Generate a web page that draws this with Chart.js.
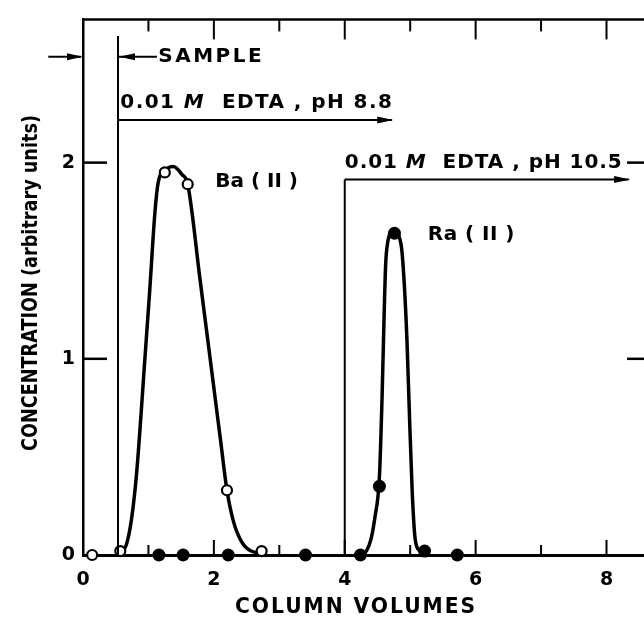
<!DOCTYPE html>
<html>
<head>
<meta charset="utf-8">
<script src="https://cdn.jsdelivr.net/npm/chart.js@4.4.1/dist/chart.umd.min.js"></script>
<style>
  html, body { margin: 0; padding: 0; background: #fff; overflow: hidden; }
  canvas { display: block; }
</style>
</head>
<body>
<canvas id="elutionChart" width="670" height="620"></canvas>
<script>
// Ba(II) fractions (open circles)
const baX = [0.14, 0.57, 1.25, 1.60, 2.20, 2.73];
const baY = [0.00, 0.02, 1.95, 1.89, 0.33, 0.02];

// Ra(II) fractions (filled circles)
const raX = [1.16, 1.53, 2.22, 3.40, 4.24, 4.53, 4.76, 5.22, 5.72];
const raY = [0.00, 0.00, 0.00, 0.00, 0.00, 0.35, 1.64, 0.02, 0.00];

// hand-drawn elution curves
const baCurveX = [0.57, 0.66, 0.74, 0.82, 0.95, 1.02, 1.10, 1.15, 1.25, 1.38, 1.51, 1.60, 1.79, 1.97, 2.10, 2.20, 2.30, 2.42, 2.57, 2.73];
const baCurveY = [0.01, 0.05, 0.18, 0.42, 1.02, 1.35, 1.75, 1.90, 1.96, 1.98, 1.94, 1.89, 1.40, 0.93, 0.59, 0.33, 0.17, 0.07, 0.02, 0.01];
const raCurveX = [4.24, 4.33, 4.40, 4.46, 4.53, 4.57, 4.60, 4.625, 4.66, 4.71, 4.76, 4.82, 4.87, 4.91, 4.95, 4.99, 5.03, 5.07, 5.12, 5.22];
const raCurveY = [0.00, 0.02, 0.08, 0.19, 0.40, 0.80, 1.20, 1.48, 1.60, 1.645, 1.65, 1.63, 1.56, 1.38, 1.10, 0.70, 0.33, 0.10, 0.03, 0.01];

// axis ticks
const xTickLabels = [0, 2, 4, 6, 8];
const yTickLabels = [0, 1, 2];
const xInnerTicks = [1, 2, 3, 4, 5, 6, 7, 8];
const yInnerTicks = [1, 2];

const toPoints = (xs, ys) => xs.map((v, i) => ({ x: v, y: ys[i] }));

const FONT = '"DejaVu Sans", sans-serif';

function line(ctx, x1, y1, x2, y2, w) {
    ctx.lineWidth = w;
    ctx.beginPath();
    ctx.moveTo(x1, y1);
    ctx.lineTo(x2, y2);
    ctx.stroke();
}

function head(ctx, x, y, dir) {
    // dir = 1 points right, -1 points left
    ctx.beginPath();
    ctx.moveTo(x, y);
    ctx.lineTo(x - dir * 16, y - 3.5);
    ctx.lineTo(x - dir * 16, y + 3.5);
    ctx.closePath();
    ctx.fill();
}

// draws runs of text stretched to a given width
function runs(ctx, parts, x, y, size, width) {
    const f = p => (p.italic ? 'italic ' : '') + 'bold ' + size + 'px ' + FONT;
    ctx.letterSpacing = '0px';
    let natural = 0, chars = 0;
    parts.forEach(p => {
        ctx.font = f(p);
        natural += ctx.measureText(p.t).width;
        chars += p.t.length;
    });
    const sp = Math.max(0, (width - natural) / chars);
    ctx.letterSpacing = sp + 'px';
    parts.forEach(p => {
        ctx.font = f(p);
        ctx.fillText(p.t, x, y);
        x += ctx.measureText(p.t).width;
    });
    ctx.letterSpacing = '0px';
}

const annotate = {
    id: 'annotate',
    afterDraw(chart) {
        const { ctx, chartArea: a, scales: { x, y } } = chart;
        const px = v => x.getPixelForValue(v);
        const py = v => y.getPixelForValue(v);
        ctx.save();
        ctx.strokeStyle = '#000';
        ctx.fillStyle = '#000';

        // frame top + right
        line(ctx, a.left - 1, a.top, a.right, a.top, 2.5);
        line(ctx, a.right, a.top, a.right, a.bottom, 2.5);

        // inward ticks
        xInnerTicks.forEach(v => {
            line(ctx, px(v), a.top, px(v), a.top + (v % 2 ? 12 : 20), 2);
            line(ctx, px(v), a.bottom, px(v), a.bottom - (v % 2 ? 10 : 15), 2);
        });
        yInnerTicks.forEach(v => {
            line(ctx, a.left, py(v), a.left + 24, py(v), 2.5);
            line(ctx, a.right, py(v), a.right - 24, py(v), 2.5);
        });

        // sample injection
        const xs = 0.535;
        line(ctx, px(-0.53), py(2.54), a.left - 2, py(2.54), 2);
        head(ctx, a.left, py(2.54), 1);
        line(ctx, px(xs), py(2.645), px(xs), a.bottom, 2);
        line(ctx, px(xs), py(2.54), px(1.13), py(2.54), 2);
        head(ctx, px(xs) + 1, py(2.54), -1);

        ctx.textBaseline = 'middle';
        ctx.textAlign = 'left';
        runs(ctx, [{ t: 'SAMPLE' }], px(1.15), py(2.54), 20, 106);

        // first eluent
        line(ctx, px(xs), py(2.217), px(4.72), py(2.217), 2);
        head(ctx, px(4.74), py(2.217), 1);
        runs(ctx, [{ t: '0.01 ' }, { t: 'M', italic: true }, { t: '  EDTA , pH 8.8' }], px(0.57), py(2.307), 20, 273);

        // second eluent
        line(ctx, px(4), py(1.914), px(4), a.bottom, 2);
        line(ctx, px(4), py(1.914), px(8.34), py(1.914), 2);
        head(ctx, px(8.36), py(1.914), 1);
        runs(ctx, [{ t: '0.01 ' }, { t: 'M', italic: true }, { t: '  EDTA , pH 10.5' }], px(4.0), py(2.0), 20, 278);

        // peak labels
        runs(ctx, [{ t: 'Ba ( II )' }], px(2.02), py(1.9), 20, 82);
        runs(ctx, [{ t: 'Ra ( II )' }], px(5.27), py(1.63), 20, 87);

        // axis titles
        ctx.textAlign = 'center';
        ctx.font = 'bold 21px ' + FONT;
        ctx.letterSpacing = '2px';
        ctx.fillText('COLUMN VOLUMES', 356, 608, 242);
        ctx.letterSpacing = '0px';

        ctx.translate(31, 283);
        ctx.rotate(-Math.PI / 2);
        ctx.font = 'bold 22px ' + FONT;
        ctx.fillText('CONCENTRATION (arbitrary units)', 0, 0, 336);
        ctx.restore();
    }
};

const ctx = document.getElementById('elutionChart').getContext('2d');
new Chart(ctx, {
    type: 'scatter',
    data: {
        datasets: [
            {
                label: 'Ba(II)',
                data: toPoints(baX, baY),
                pointStyle: 'circle',
                pointRadius: 5,
                pointBorderWidth: 2.2,
                pointBackgroundColor: '#fff',
                pointBorderColor: '#000',
                clip: false,
                order: 0
            },
            {
                label: 'Ra(II)',
                data: toPoints(raX, raY),
                pointStyle: 'circle',
                pointRadius: 6.5,
                pointBorderWidth: 0,
                pointBackgroundColor: '#000',
                pointBorderColor: '#000',
                clip: false,
                order: 0
            },
            {
                label: 'Ba curve',
                data: toPoints(baCurveX, baCurveY),
                showLine: true,
                pointRadius: 0,
                borderColor: '#000',
                borderWidth: 3.5,
                cubicInterpolationMode: 'monotone',
                clip: false,
                order: 1
            },
            {
                label: 'Ra curve',
                data: toPoints(raCurveX, raCurveY),
                showLine: true,
                pointRadius: 0,
                borderColor: '#000',
                borderWidth: 3.5,
                cubicInterpolationMode: 'monotone',
                clip: false,
                order: 1
            }
        ]
    },
    options: {
        responsive: false,
        animation: false,
        layout: { padding: { top: 13, right: 19, left: 0, bottom: 0 } },
        plugins: {
            legend: { display: false },
            tooltip: { enabled: false }
        },
        scales: {
            x: {
                type: 'linear',
                min: 0,
                max: 8.68,
                grid: { display: false, drawTicks: false },
                border: { display: true, color: '#000', width: 3 },
                afterBuildTicks: s => { s.ticks = xTickLabels.map(v => ({ value: v })); },
                afterFit: s => { s.height = 65; },
                ticks: {
                    color: '#000',
                    padding: 14,
                    autoSkip: false,
                    maxRotation: 0,
                    font: { family: 'DejaVu Sans', size: 19, weight: 'bold' }
                }
            },
            y: {
                type: 'linear',
                min: 0,
                max: 2.73,
                grid: { display: false, drawTicks: false },
                border: { display: true, color: '#000', width: 2.5 },
                afterBuildTicks: s => { s.ticks = yTickLabels.map(v => ({ value: v })); },
                afterFit: s => { s.width = 83; },
                ticks: {
                    color: '#000',
                    padding: 8,
                    font: { family: 'DejaVu Sans', size: 19, weight: 'bold' }
                }
            }
        }
    },
    plugins: [annotate]
});
</script>
</body>
</html>
